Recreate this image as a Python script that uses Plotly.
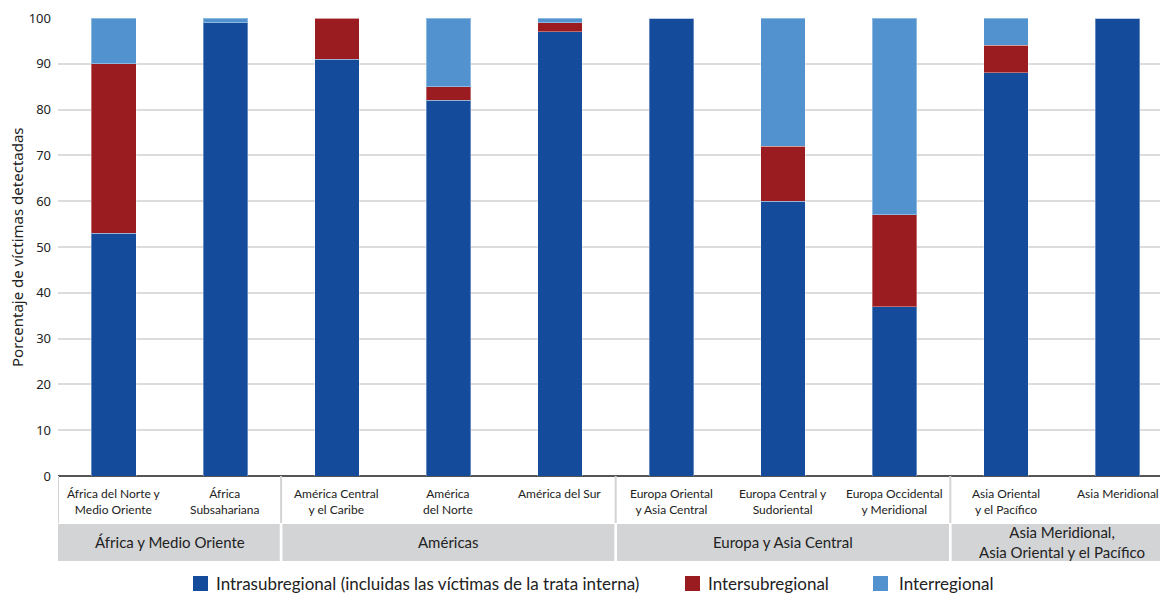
import plotly.graph_objects as go

categories = [
    "África del Norte y<br>Medio Oriente",
    "África<br>Subsahariana",
    "América Central<br>y el Caribe",
    "América<br>del Norte",
    "América del Sur",
    "Europa Oriental<br>y Asia Central",
    "Europa Central y<br>Sudoriental",
    "Europa Occidental<br>y Meridional",
    "Asia Oriental<br>y el Pacífico",
    "Asia Meridional",
]
intrasubregional = [53, 99, 91, 82, 97, 100, 60, 37, 88, 100]
intersubregional = [37, 0, 9, 3, 2, 0, 12, 20, 6, 0]
interregional = [10, 1, 0, 15, 1, 0, 28, 43, 6, 0]

groups = ["África y Medio Oriente", "Américas", "Europa y Asia Central",
          "Asia Meridional,<br>Asia Oriental y el Pacífico"]
group_spans = [(0, 1), (2, 4), (5, 7), (8, 9)]

series_names = ["Intrasubregional (incluidas las víctimas de la trata interna)",
                "Intersubregional", "Interregional"]
colors = ["#144b9b", "#9b1c20", "#5192cf"]

W, H = 1160, 593
ML, MT, MB = 58, 18, 117
PW, PH = W - ML, H - MT - MB


def px_x(p):
    return (p - ML) / PW


def px_y(q):
    return (H - MB - q) / PH


xs = list(range(len(categories)))
fig = go.Figure()
for name, vals, col in zip(series_names, [intrasubregional, intersubregional, interregional], colors):
    fig.add_trace(go.Bar(
        x=xs, y=vals, name=name,
        marker=dict(color=col, line=dict(color="rgba(255,255,255,0.35)", width=1)),
        width=0.4, hoverinfo="y+name", showlegend=False))

LBL = "Lato, 'Open Sans', sans-serif"
# category labels
for i, c in enumerate(categories):
    fig.add_annotation(x=i, y=px_y(484), xref="x", yref="paper", text=c, showarrow=False,
                       yanchor="top", xanchor="center", font=dict(family=LBL, size=12, color="#222"))

shapes = []
# white-row separators
for xv in [-0.5, 1.5, 4.5, 7.5]:
    shapes.append(dict(type="line", xref="x", yref="paper", x0=xv, x1=xv, y0=0, y1=px_y(523),
                       line=dict(color="#d4d4d4", width=2)))
# gray band
for gi, ((a, b), g) in enumerate(zip(group_spans, groups)):
    x0 = a - 0.5 + (0.012 if gi > 0 else -0.01)
    x1 = b + 0.5 - 0.012 if gi < len(groups) - 1 else b + 1.5
    shapes.append(dict(type="rect", xref="x", yref="paper", x0=x0, x1=x1, y0=px_y(524), y1=px_y(561),
                       fillcolor="#d3d4d6", line=dict(width=0), layer="below"))
    fig.add_annotation(x=(a + b) / 2, y=px_y(542), xref="x", yref="paper", text=g, showarrow=False,
                       yanchor="middle", xanchor="center",
                       font=dict(family=LBL, size=15, color="#222"))

# legend (drawn manually to match the reference spacing)
legend_pos = [(193, 214), (685, 706), (873, 897)]
for (sx, tx), name, col in zip(legend_pos, series_names, colors):
    shapes.append(dict(type="rect", xref="paper", yref="paper", x0=px_x(sx), x1=px_x(sx + 15),
                       y0=px_y(576), y1=px_y(591), fillcolor=col, line=dict(width=0)))
    fig.add_annotation(x=px_x(tx), y=px_y(583), xref="paper", yref="paper", text=name,
                       showarrow=False, xanchor="left", yanchor="middle",
                       font=dict(family=LBL, size=17, color="#222"))

fig.add_annotation(x=px_x(17), y=0.5, xref="paper", yref="paper", text="Porcentaje de víctimas detectadas",
                   textangle=-90, showarrow=False, xanchor="center", yanchor="middle",
                   font=dict(family="'Noto Sans', 'Open Sans', sans-serif", size=15, color="#222"))

fig.update_layout(
    barmode="stack",
    width=W, height=H,
    margin=dict(l=ML, r=0, t=MT, b=MB, autoexpand=False),
    plot_bgcolor="white", paper_bgcolor="white",
    shapes=shapes,
    showlegend=False,
)
fig.update_xaxes(range=[-0.5, 9.38], showticklabels=False, showgrid=False, zeroline=False,
                 showline=False, ticks="")
fig.update_yaxes(range=[0, 100], dtick=10, showgrid=True, gridcolor="#dcdcdc", gridwidth=2,
                 zeroline=True, zerolinecolor="#555", zerolinewidth=2, showline=False,
                 tickfont=dict(family="'Noto Sans', 'Open Sans', sans-serif", size=13, color="#222"),
                 ticklabelstandoff=6)

fig.write_html("out.html", config={"displayModeBar": False},
               post_script="document.body.style.margin='0';document.body.style.overflow='hidden';")
